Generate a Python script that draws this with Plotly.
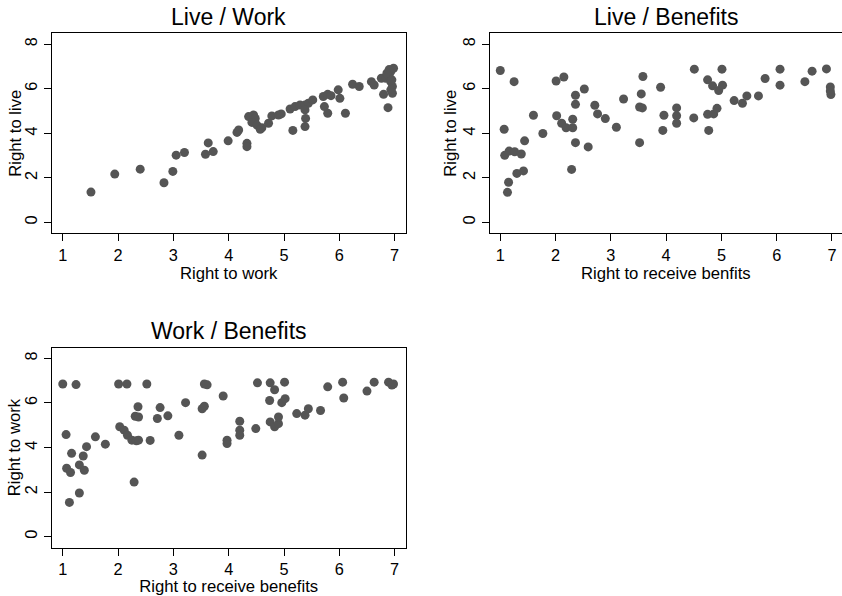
import plotly.graph_objects as go

# ---------------- data ----------------
# Panel 1: Live / Work  (x = right to work, y = right to live)
p1_work = [1.51, 1.94, 2.40, 2.83, 2.99, 3.05, 3.20, 3.58, 3.63, 3.72, 3.99, 4.15, 4.18,
           4.33, 4.33, 4.36, 4.45, 4.48, 4.42, 4.51, 4.57, 4.60, 4.72, 4.78, 4.90, 4.95,
           5.11, 5.20, 5.16, 5.29, 5.38, 5.44, 5.52, 5.38, 5.39, 5.38, 5.71, 5.79, 5.85,
           5.73, 5.79, 5.98, 6.01, 6.11, 6.24, 6.36, 6.58, 6.63, 6.76, 6.84, 6.90, 6.93,
           6.98, 6.93, 6.96, 6.93, 6.96, 6.80, 6.88, 6.90, 6.86, 6.95]
p1_live = [1.36, 2.17, 2.39, 1.78, 2.29, 3.02, 3.14, 3.06, 3.57, 3.18, 3.66, 4.04, 4.15,
           3.55, 3.40, 4.75, 4.82, 4.67, 4.49, 4.37, 4.18, 4.25, 4.45, 4.78, 4.82, 4.87,
           5.09, 5.20, 4.13, 5.27, 5.27, 5.35, 5.50, 5.05, 4.67, 4.30, 5.65, 5.75, 5.69,
           5.20, 4.90, 5.95, 5.57, 4.90, 6.20, 6.10, 6.32, 6.17, 6.47, 6.47, 6.55, 6.77,
           6.92, 6.32, 6.10, 5.95, 5.80, 5.75, 5.15, 6.86, 6.70, 6.40]

# Panel 2: Live / Benefits  (x = right to receive benefits, y = right to live)
p2_benefits = [1.00, 1.07, 1.08, 1.16, 1.26, 1.38, 1.13, 1.15, 1.25, 1.30, 1.42, 1.44, 1.60,
               1.77, 2.01, 2.02, 2.15, 2.11, 2.19, 2.31, 2.31, 2.29, 2.36, 2.36, 2.36, 2.52,
               2.59, 2.71, 2.76, 2.90, 3.10, 3.23, 3.52, 3.52, 3.57, 3.55, 3.58, 3.90, 3.94,
               3.96, 4.19, 4.19, 4.19, 4.50, 4.51, 4.75, 4.84, 4.77, 4.75, 4.86, 4.92, 5.01,
               4.95, 5.02, 5.23, 5.38, 5.46, 5.67, 5.79, 6.06, 6.06, 6.51, 6.64, 6.90, 6.97,
               6.97, 6.98]
p2_live = [6.82, 4.18, 3.01, 3.20, 3.17, 3.07, 1.35, 1.80, 6.32, 2.20, 2.31, 3.66, 4.81,
           3.99, 6.35, 4.79, 6.53, 4.45, 4.25, 4.63, 4.25, 2.38, 5.71, 5.30, 3.58, 5.99,
           3.39, 5.26, 4.87, 4.66, 4.27, 5.54, 3.58, 5.18, 5.14, 5.77, 6.55, 6.07, 4.13,
           4.81, 5.14, 4.79, 4.45, 4.69, 6.88, 6.40, 6.13, 4.13, 4.85, 4.87, 5.12, 6.88,
           5.92, 6.16, 5.47, 5.35, 5.68, 5.68, 6.46, 6.88, 6.16, 6.32, 6.79, 6.89, 6.08,
           5.90, 5.74]

# Panel 3: Work / Benefits  (x = right to receive benefits, y = right to work)
p3_benefits = [1.00, 1.24, 2.01, 2.16, 2.52, 3.56, 3.61, 3.90, 3.22, 3.52, 3.56, 2.36, 2.76,
               2.31, 2.37, 2.71, 2.90, 2.03, 2.11, 2.17, 2.25, 2.33, 2.37, 2.58, 3.10, 3.97,
               3.97, 3.52, 1.06, 1.59, 1.77, 1.43, 1.16, 1.37, 1.07, 1.14, 1.30, 1.39, 2.29,
               1.30, 1.12, 4.52, 4.75, 4.83, 5.01, 4.74, 4.96, 5.02, 5.79, 6.06, 6.08, 6.50,
               6.63, 6.89, 6.98, 6.95, 4.20, 4.20, 4.20, 4.49, 4.75, 4.83, 4.90, 4.90, 5.23,
               5.38, 5.44, 5.66]
p3_work = [6.85, 6.82, 6.85, 6.85, 6.85, 6.85, 6.81, 6.31, 6.01, 5.74, 5.85, 5.83, 5.79,
           5.40, 5.37, 5.30, 5.42, 4.93, 4.78, 4.55, 4.33, 4.30, 4.33, 4.32, 4.55, 4.33,
           4.18, 3.66, 4.58, 4.48, 4.15, 4.04, 3.74, 3.62, 3.07, 2.88, 3.22, 2.98, 2.45,
           1.96, 1.54, 6.90, 6.90, 6.59, 6.93, 6.11, 6.01, 6.19, 6.72, 6.93, 6.22, 6.53,
           6.93, 6.93, 6.85, 6.80, 5.18, 4.78, 4.55, 4.85, 5.15, 4.93, 5.07, 5.37, 5.52,
           5.45, 5.74, 5.66]

titles = ["Live / Work", "Live / Benefits", "Work / Benefits"]
x_titles = ["Right to work", "Right to receive benfits", "Right to receive benefits"]
y_titles = ["Right to live", "Right to live", "Right to work"]
x_ticks = [1, 2, 3, 4, 5, 6, 7]
y_ticks = [0, 2, 4, 6, 8]

# ---------------- figure ----------------
W, H = 842, 596
FONT = "Liberation Sans, Arial, sans-serif"
MARK = "#555555"

fig = go.Figure()
panels = [
    (p1_work, p1_live, "x", "y"),
    (p2_benefits, p2_live, "x2", "y2"),
    (p3_benefits, p3_work, "x3", "y3"),
]
for xs, ys, xa, ya in panels:
    fig.add_trace(go.Scatter(x=xs, y=ys, mode="markers", xaxis=xa, yaxis=ya,
                             marker=dict(size=9, color=MARK, line=dict(width=0)),
                             showlegend=False, hoverinfo="x+y"))

# frame positions in window pixels (left, right, top, bottom)
frames = [
    (51.7, 405.7, 33.3, 233.3),
    (490.0, 841.5, 33.3, 233.3),
    (51.7, 405.7, 347.7, 547.7),
]
ytitle_x = [15.5, 450.5, 14.5]   # centre of the rotated y-axis titles, px
x_ranges = [[0.80, 7.20], [0.814, 7.172], [0.80, 7.20]]
y_ranges = [[-0.49, 8.49], [-0.49, 8.49], [-0.49, 8.475]]

axis_common = dict(showline=True, linecolor="black", linewidth=1, mirror=True,
                   ticks="outside", ticklen=7, tickwidth=1, tickcolor="black",
                   showgrid=False, zeroline=False, fixedrange=True, automargin=False,
                   tickfont=dict(family=FONT, size=16.3, color="black"))

layout = dict(width=W, height=H, margin=dict(l=0, r=0, t=0, b=0, pad=0, autoexpand=False),
              paper_bgcolor="white", plot_bgcolor="white",
              font=dict(family=FONT, color="black"), showlegend=False)

annotations = []
for i, (l, r, t, b) in enumerate(frames):
    sfx = "" if i == 0 else str(i + 1)
    layout["xaxis" + sfx] = dict(
        axis_common, domain=[l / W, min(r / W, 1.0)], range=x_ranges[i],
        tickvals=x_ticks, anchor="y" + sfx,
        title=dict(text=x_titles[i], font=dict(family=FONT, size=16.7), standoff=1))
    layout["yaxis" + sfx] = dict(
        axis_common, domain=[(H - b) / H, (H - t) / H], range=y_ranges[i],
        tickvals=y_ticks, tickangle=-90, anchor="x" + sfx)
    # panel title
    annotations.append(dict(text=titles[i], x=(l + r) / 2 / W, y=(H - (t - 16.5)) / H,
                            xref="paper", yref="paper", xanchor="center", yanchor="middle",
                            showarrow=False, font=dict(family=FONT, size=23, color="black")))
    # y-axis title (rotated)
    annotations.append(dict(text=y_titles[i], x=ytitle_x[i] / W, y=(H - (t + b) / 2) / H,
                            xref="paper", yref="paper", xanchor="center", yanchor="middle",
                            textangle=-90, showarrow=False,
                            font=dict(family=FONT, size=16.7, color="black")))

layout["annotations"] = annotations
fig.update_layout(**layout)
# remove the page's default 8px body margin so the figure fills the window exactly
fig.write_html("out.html", config={"displayModeBar": False},
               post_script="document.body.style.margin='0';")
